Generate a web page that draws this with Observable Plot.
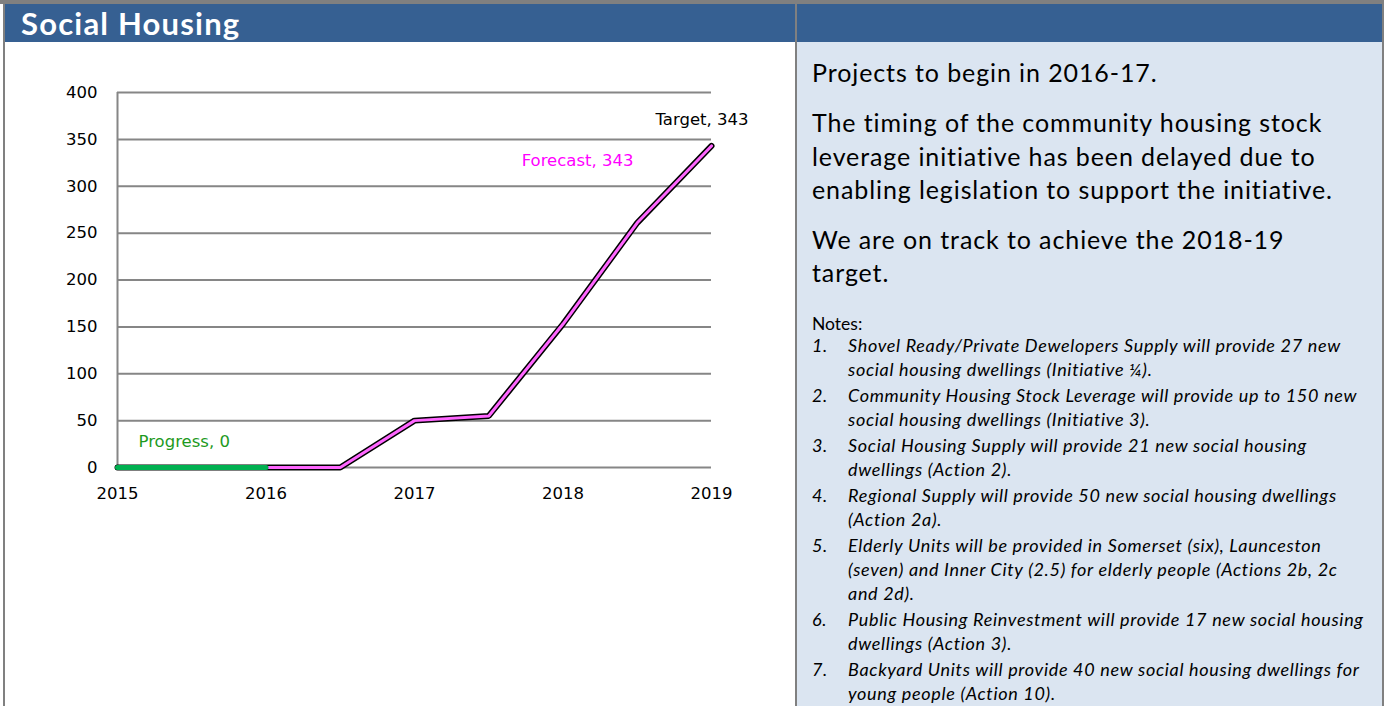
<!DOCTYPE html>
<html>
<head>
<meta charset="utf-8">
<script src="https://cdn.jsdelivr.net/npm/d3@7"></script>
<script src="https://cdn.jsdelivr.net/npm/@observablehq/plot@0.6"></script>
<style>
  html, body { margin: 0; padding: 0; background: #fff; }
  body { width: 1387px; height: 706px; position: relative; overflow: hidden; }
  .abs { position: absolute; }
  #topline { left: 0; top: 0; width: 1384px; height: 4px; background: #808080; }
  #leftline { left: 3px; top: 0; width: 2px; height: 706px; background: #808080; }
  #header { left: 5px; top: 4px; width: 1377px; height: 38px; background: #366092; }
  #title { left: 21px; top: 4px; height: 38px; line-height: 38px; color: #fff; font-family: Lato, sans-serif; font-weight: 700; font-size: 31px; letter-spacing: 1.2px; }
  #divider { left: 795px; top: 4px; width: 2px; height: 702px; background: #808080; }
  #rightline { left: 1382px; top: 0; width: 2px; height: 706px; background: #808080; }
  #panel { left: 797px; top: 42px; width: 585px; height: 664px; background: #DBE5F1; }
  #text { left: 812px; top: 56px; width: 560px; font-family: Lato, sans-serif; color: #000; }
  #text p.big { margin: 0 0 17px 0; max-width: 540px; font-size: 25px; line-height: 33.3px; letter-spacing: 0.9px; }
  #notes { font-size: 17.5px; margin-top: 23px; line-height: 22px; }
  #notes ol { list-style: none; margin: -2px 0 0 0; padding: 0; }
  #notes li { display: grid; grid-template-columns: 36px 1fr; font-style: italic; font-size: 18px; line-height: 24px; margin-bottom: 2px; letter-spacing: 0.68px; }
  #chart { left: 0; top: 42px; }
</style>
</head>
<body>
<div class="abs" id="panel"></div>
<div class="abs" id="header"></div>
<div class="abs" id="topline"></div>
<div class="abs" id="leftline"></div>
<div class="abs" id="divider"></div>
<div class="abs" id="rightline"></div>
<div class="abs" id="title"></div>
<div class="abs" id="chart"></div>
<div class="abs" id="text"></div>
<script>
// ---- data ----
const titleText = "Social Housing";
const periods = [2015, 2015.5, 2016, 2016.5, 2017, 2017.5, 2018, 2018.5, 2019];
const targetValues = [0, 0, 0, 0, 50, 55, 153, 261, 343];
const forecastValues = [0, 0, 0, 0, 50, 55, 153, 261, 343];
const progressPeriods = [2015, 2015.5, 2016];
const progressValues = [0, 0, 0];
const xTicks = [2015, 2016, 2017, 2018, 2019];
const yTicks = [0, 50, 100, 150, 200, 250, 300, 350, 400];
const paragraphs = [
  "Projects to begin in 2016-17.",
  "The timing of the community housing stock leverage initiative has been delayed due to enabling legislation to support the initiative.",
  "We are on track to achieve the 2018-19 target."
];
const notesHeading = "Notes:";
const notes = [
  "Shovel Ready/Private Dewelopers Supply will provide 27 new social housing dwellings (Initiative ¼).",
  "Community Housing Stock Leverage will provide up to 150 new social housing dwellings (Initiative 3).",
  "Social Housing Supply will provide 21 new social housing dwellings (Action 2).",
  "Regional Supply will provide 50 new social housing dwellings (Action 2a).",
  "Elderly Units will be provided in Somerset (six), Launceston (seven) and Inner City (2.5) for elderly people (Actions 2b, 2c and 2d).",
  "Public Housing Reinvestment will provide 17 new social housing dwellings (Action 3).",
  "Backyard Units will provide 40 new social housing dwellings for young people (Action 10)."
];

// ---- build tables ----
const series = periods.map((p, i) => ({period: p, target: targetValues[i], forecast: forecastValues[i]}));
const progress = progressPeriods.map((p, i) => ({period: p, value: progressValues[i]}));
const last = series[series.length - 1];

document.getElementById("title").textContent = titleText;

const chart = Plot.plot({
  width: 790,
  height: 480,
  marginLeft: 117,
  marginRight: 79,
  marginTop: 50,
  marginBottom: 55,
  style: {fontFamily: "'DejaVu Sans', sans-serif", fontSize: "16.5px", color: "#000", background: "transparent", overflow: "visible"},
  x: {domain: [2015, 2019], ticks: xTicks, tickFormat: d => String(d), tickSize: 0, tickPadding: 20, label: null},
  y: {domain: [0, 400], ticks: yTicks, tickSize: 0, tickPadding: 14, label: null},
  marks: [
    Plot.ruleY(yTicks, {stroke: "#868686", strokeWidth: 2}),
    Plot.ruleX([2015], {y1: 0, y2: 400, stroke: "#868686", strokeWidth: 2}),
    Plot.axisY({ticks: yTicks, tickSize: 0, tickPadding: 20, fontSize: 16.5}),
    Plot.axisX({ticks: xTicks, tickFormat: d => String(d), tickSize: 0, tickPadding: 20, fontSize: 16.5}),
    Plot.line(series, {x: "period", y: "target", stroke: "#000", strokeWidth: 6, strokeLinejoin: "miter"}),
    Plot.line(series, {x: "period", y: "forecast", stroke: "#FF66FF", strokeWidth: 3, strokeLinejoin: "miter"}),
    Plot.line(progress, {x: "period", y: "value", stroke: "#00B050", strokeWidth: 5}),
    Plot.text([last], {x: "period", y: "target", text: d => `Target, ${d.target}`, textAnchor: "end", dx: 37, dy: -26, fill: "#000", fontSize: 16.5}),
    Plot.text([last], {x: "period", y: "forecast", text: d => `Forecast, ${d.forecast}`, textAnchor: "end", dx: -78, dy: 15, fill: "#FF00FF", fontSize: 16.5}),
    Plot.text([progress[0]], {x: "period", y: "value", text: d => `Progress, ${d.value}`, textAnchor: "start", dx: 21, dy: -26, fill: "#1E9A1E", fontSize: 16.5})
  ]
});
document.getElementById("chart").appendChild(chart);

// ---- text panel ----
const textDiv = document.getElementById("text");
paragraphs.forEach(t => {
  const p = document.createElement("p");
  p.className = "big";
  p.textContent = t;
  textDiv.appendChild(p);
});
const notesDiv = document.createElement("div");
notesDiv.id = "notes";
const h = document.createElement("div");
h.textContent = notesHeading;
notesDiv.appendChild(h);
const ol = document.createElement("ol");
notes.forEach((n, i) => {
  const li = document.createElement("li");
  const num = document.createElement("span");
  num.textContent = (i + 1) + ".";
  const body = document.createElement("span");
  body.textContent = n;
  li.appendChild(num);
  li.appendChild(body);
  ol.appendChild(li);
});
notesDiv.appendChild(ol);
textDiv.appendChild(notesDiv);
</script>
</body>
</html>
